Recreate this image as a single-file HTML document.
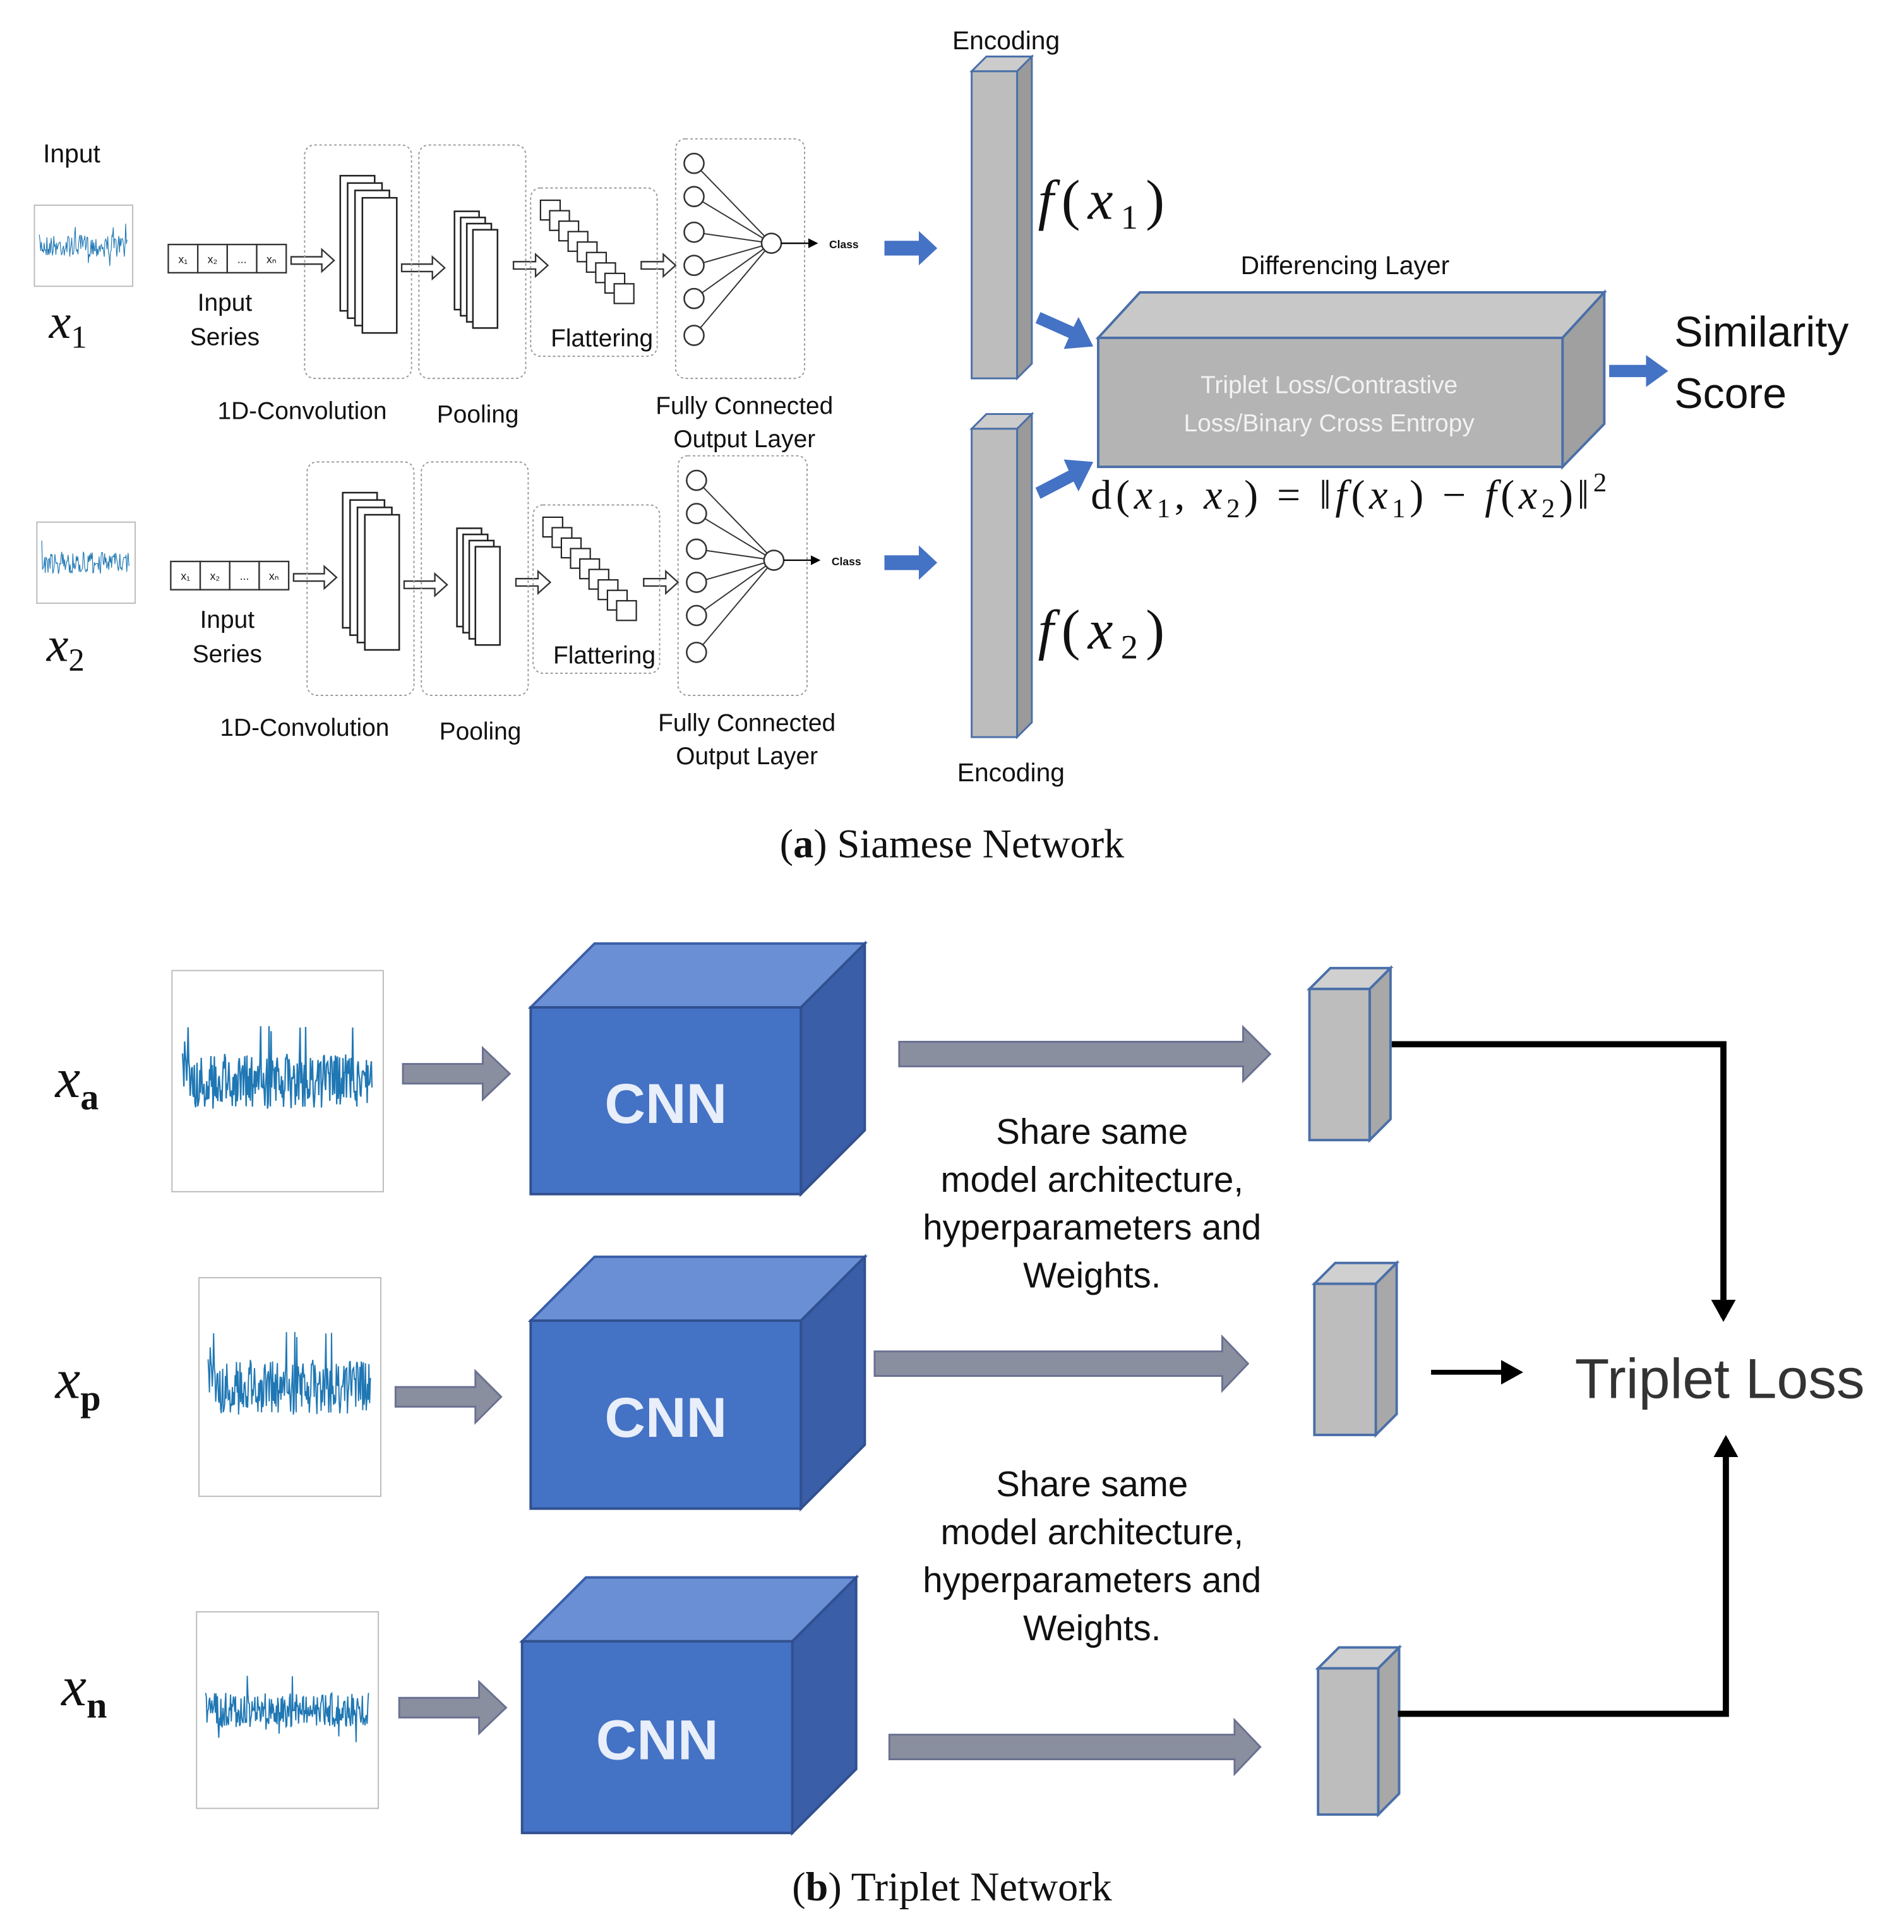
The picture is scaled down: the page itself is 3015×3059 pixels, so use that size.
<!DOCTYPE html>
<html><head><meta charset="utf-8">
<style>
html,body{margin:0;padding:0;background:#fff;}
svg{display:block}
.s{font-family:"Liberation Sans",sans-serif;fill:#111}
.m{font-family:"Liberation Serif",serif;font-style:italic;fill:#111}
.r{font-family:"Liberation Serif",serif;fill:#111}
</style></head><body>
<svg id="sv" width="3015" height="3059" viewBox="0 0 1550 1572.6" xmlns="http://www.w3.org/2000/svg">
<defs>
<marker id="ah" markerWidth="8" markerHeight="8" refX="6" refY="4" orient="auto" markerUnits="userSpaceOnUse"><path d="M0,0 L8,4 L0,8 z" fill="#000"/></marker>
<marker id="ahb" markerWidth="20" markerHeight="20" refX="14" refY="10" orient="auto" markerUnits="userSpaceOnUse"><path d="M0,0 L18,10 L0,20 z" fill="#000"/></marker>
</defs>
<g id="top">
<text x="35" y="132" class="s" font-size="21">Input</text>
<g id="rows"></g>
<text x="40" y="275" class="m" font-size="40">x<tspan font-size="26" dy="8" font-style="normal">1</tspan></text>
<text x="38" y="538" class="m" font-size="40">x<tspan font-size="26" dy="8" font-style="normal">2</tspan></text>
<polygon points="791,58 803,46 840,46 828,58" fill="#ccc" stroke="#4a6fa8" stroke-width="1.5"/>
<polygon points="828,58 840,46 840,296 828,308" fill="#9a9a9a" stroke="#4a6fa8" stroke-width="1.5"/>
<rect x="791" y="58" width="37" height="250" fill="#bdbdbd" stroke="#4a6fa8" stroke-width="1.5"/>
<polygon points="791,349 803,337 840,337 828,349" fill="#ccc" stroke="#4a6fa8" stroke-width="1.5"/>
<polygon points="828,349 840,337 840,588 828,600" fill="#9a9a9a" stroke="#4a6fa8" stroke-width="1.5"/>
<rect x="791" y="349" width="37" height="251" fill="#bdbdbd" stroke="#4a6fa8" stroke-width="1.5"/>
<text x="819" y="40" class="s" font-size="21" text-anchor="middle">Encoding</text>
<text x="823" y="636" class="s" font-size="21" text-anchor="middle">Encoding</text>
<text x="845" y="178" class="m" font-size="46" textLength="103" lengthAdjust="spacing">f<tspan font-style="normal">(</tspan>x<tspan font-size="28" dy="8" font-style="normal">1</tspan><tspan dy="-8" font-style="normal">)</tspan></text>
<text x="845" y="528" class="m" font-size="46" textLength="103" lengthAdjust="spacing">f<tspan font-style="normal">(</tspan>x<tspan font-size="28" dy="8" font-style="normal">2</tspan><tspan dy="-8" font-style="normal">)</tspan></text>
<g fill="#4472c4">
<polygon points="720,196 748,196 748,188 763,202 748,216 748,208 720,208"/>
<polygon points="720,452 748,452 748,444 763,458 748,472 748,464 720,464"/>
<polygon points="1310,297 1340,297 1340,289 1358,302 1340,315 1340,307 1310,307"/>
<polygon points="843,263 847,254 874,266 878,258 890,282 866,284 870,275"/>
<polygon points="843,397 847,406 874,392 878,400 890,376 866,374 870,383"/>
</g>
<text x="1095" y="223" class="s" font-size="21" text-anchor="middle">Differencing Layer</text>
<polygon points="894,275 928,238 1306,238 1272,275" fill="#c8c8c8" stroke="#4a6fa8" stroke-width="2"/>
<polygon points="1272,275 1306,238 1306,345 1272,380" fill="#a0a0a0" stroke="#4a6fa8" stroke-width="2"/>
<rect x="894" y="275" width="378" height="105" fill="#b4b4b4" stroke="#4a6fa8" stroke-width="2"/>
<text x="1082" y="320" class="s" font-size="20" style="fill:#f2f2f2" text-anchor="middle">Triplet Loss/Contrastive</text>
<text x="1082" y="351" class="s" font-size="20" style="fill:#f2f2f2" text-anchor="middle">Loss/Binary Cross Entropy</text>
<text x="888" y="414" class="r" font-size="34" textLength="420" lengthAdjust="spacing">d(<tspan font-style="italic">x</tspan><tspan font-size="22" dy="7">1</tspan><tspan dy="-7">, </tspan><tspan font-style="italic">x</tspan><tspan font-size="22" dy="7">2</tspan><tspan dy="-7">) = ‖</tspan><tspan font-style="italic">f</tspan>(<tspan font-style="italic">x</tspan><tspan font-size="22" dy="7">1</tspan><tspan dy="-7">) − </tspan><tspan font-style="italic">f</tspan>(<tspan font-style="italic">x</tspan><tspan font-size="22" dy="7">2</tspan><tspan dy="-7">)‖</tspan><tspan font-size="22" dy="-14">2</tspan></text>
<text x="1363" y="282" class="s" font-size="35">Similarity</text>
<text x="1363" y="332" class="s" font-size="35">Score</text>
<text x="775" y="698" class="r" font-size="33" text-anchor="middle">(<tspan font-weight="bold">a</tspan>) Siamese Network</text>
</g>
<g id="bot">
<text x="45" y="893" class="m" font-size="46">x<tspan font-size="30" dy="10" font-weight="bold" font-style="normal">a</tspan></text>
<text x="45" y="1138" class="m" font-size="46">x<tspan font-size="30" dy="10" font-weight="bold" font-style="normal">p</tspan></text>
<text x="50" y="1388" class="m" font-size="46">x<tspan font-size="30" dy="10" font-weight="bold" font-style="normal">n</tspan></text>
<g id="cubes"></g>
<g fill="#8a8fa0" stroke="#6a7090" stroke-width="1.5">
<polygon points="328,866 393,866 393,853 415,874 393,895 393,882 328,882"/>
<polygon points="322,1129 387,1129 387,1116 408,1137 387,1158 387,1145 322,1145"/>
<polygon points="325,1382 390,1382 390,1369 412,1390 390,1411 390,1398 325,1398"/>
<polygon points="732,848 1012,848 1012,836 1034,858 1012,880 1012,868 732,868"/>
<polygon points="712,1100 995,1100 995,1088 1016,1110 995,1132 995,1120 712,1120"/>
<polygon points="724,1412 1005,1412 1005,1400 1026,1422 1005,1444 1005,1432 724,1432"/>
</g>
<g class="s" font-size="29" text-anchor="middle">
<text x="889" y="931">Share same</text><text x="889" y="970">model architecture,</text><text x="889" y="1009">hyperparameters and</text><text x="889" y="1048">Weights.</text>
<text x="889" y="1218">Share same</text><text x="889" y="1257">model architecture,</text><text x="889" y="1296">hyperparameters and</text><text x="889" y="1335">Weights.</text>
</g>
<path d="M1133,850 H1403 V1072" fill="none" stroke="#000" stroke-width="5" marker-end="url(#ahb)"/>
<path d="M1138,1395 H1405 V1172" fill="none" stroke="#000" stroke-width="5" marker-end="url(#ahb)"/>
<path d="M1165,1117 H1236" fill="none" stroke="#000" stroke-width="4" marker-end="url(#ahb)"/>
<text x="1282" y="1138" class="s" font-size="46" style="fill:#333">Triplet Loss</text>
<text x="775" y="1547" class="r" font-size="33" text-anchor="middle">(<tspan font-weight="bold">b</tspan>) Triplet Network</text>
</g>
</svg>
<script>
var NS="http://www.w3.org/2000/svg",sv=document.getElementById('sv');
function el(t,a,p){var e=document.createElementNS(NS,t);for(var k in a)e.setAttribute(k,a[k]);(p||sv).appendChild(e);return e;}
function txt(x,y,s,sz,anc,p){var e=el('text',{x:x,y:y,'font-size':sz,'text-anchor':anc||'start','class':'s'},p);e.textContent=s;return e;}
var seed=7;function rnd(){seed=(seed*16807)%2147483647;return seed/2147483647;}
function plot(x,y,w,h,amp,p){
 el('rect',{x:x,y:y,width:w,height:h,fill:'#fff',stroke:'#bbb','stroke-width':1},p);
 var d='',n=Math.floor(w*1.6),cy=y+h*0.5;
 for(var i=0;i<n;i++){var px=x+w*0.05+i*(w*0.9)/n;var a=(rnd()-0.5)*amp*(rnd()<0.05?2:1);d+=(i?'L':'M')+px.toFixed(1)+','+(cy+a).toFixed(1);}
 el('path',{d:d,fill:'none',stroke:'#1f77b4','stroke-width':Math.max(0.6,w/150)},p);
}
function row(dx,dy){
 var g=el('g',{transform:'translate('+dx+','+dy+')'},document.getElementById('rows'));
 plot(28,167,80,66,18,g);
 var lab=['x₁','x₂','...','xₙ'];
 for(var i=0;i<4;i++){el('rect',{x:137+i*24,y:199,width:24,height:23,fill:'#fff',stroke:'#333','stroke-width':1.2},g);txt(149+i*24,214,lab[i],9,'middle',g);}
 [[237,212,35],[327,218,35],[418,216,28],[522,216,28]].forEach(function(a){var x=a[0],y=a[1],w=a[2];el('path',{d:'M'+x+','+(y-3)+'h'+(w-10)+'v-6l10,9l-10,9v-6h-'+(w-10)+'z',fill:'#fff',stroke:'#333','stroke-width':1.2},g);});
 el('rect',{x:248,y:118,width:87,height:190,rx:8,fill:'none',stroke:'#999','stroke-dasharray':'2,2'},g);
 el('rect',{x:341,y:118,width:87,height:190,rx:8,fill:'none',stroke:'#999','stroke-dasharray':'2,2'},g);
 el('rect',{x:432,y:153,width:103,height:137,rx:8,fill:'none',stroke:'#999','stroke-dasharray':'2,2'},g);
 el('rect',{x:550,y:113,width:105,height:195,rx:8,fill:'none',stroke:'#999','stroke-dasharray':'2,2'},g);
 for(var i=0;i<4;i++)el('rect',{x:277+i*6,y:143+i*6,width:28,height:110,fill:'#fff',stroke:'#222','stroke-width':1.3},g);
 for(var i=0;i<4;i++)el('rect',{x:370+i*5,y:172+i*5,width:20,height:80,fill:'#fff',stroke:'#222','stroke-width':1.3},g);
 for(var i=0;i<9;i++)el('rect',{x:440+i*7.5,y:163+i*8.5,width:16,height:16,fill:'#fff',stroke:'#222','stroke-width':1.1},g);
 var ys=[133,160,189,216,243,273];
 ys.forEach(function(yy){el('line',{x1:565,y1:yy,x2:628,y2:198,stroke:'#333','stroke-width':1},g);});
 ys.forEach(function(yy){el('circle',{cx:565,cy:yy,r:8,fill:'#fff',stroke:'#333','stroke-width':1.3},g);});
 el('circle',{cx:628,cy:198,r:8,fill:'#fff',stroke:'#333','stroke-width':1.3},g);
 el('line',{x1:636,y1:198,x2:664,y2:198,stroke:'#000','stroke-width':1.2,'marker-end':'url(#ah)'},g);
 var c=txt(675,202,'Class',9,'start',g);c.setAttribute('font-weight','bold');
 txt(183,253,'Input',20,'middle',g);txt(183,281,'Series',20,'middle',g);
 txt(246,341,'1D-Convolution',20,'middle',g);txt(389,344,'Pooling',20,'middle',g);
 txt(490,282,'Flattering',20,'middle',g);txt(606,337,'Fully Connected',20,'middle',g);txt(606,364,'Output Layer',20,'middle',g);
}
row(0,0);
seed=99;row(2,258);
var cubes=document.getElementById('cubes');
function cube(x,y,w,h,d,lbl){
 el('polygon',{points:[x,y,x+d,y-d,x+w+d,y-d,x+w,y].join(','),fill:'#6b8fd4',stroke:'#3a5ea8','stroke-width':2},cubes);
 el('polygon',{points:[x+w,y,x+w+d,y-d,x+w+d,y+h-d,x+w,y+h].join(','),fill:'#3a5ea8',stroke:'#30508f','stroke-width':2},cubes);
 el('rect',{x:x,y:y,width:w,height:h,fill:'#4472c4',stroke:'#30508f','stroke-width':2},cubes);
 var t=txt(x+w/2,y+h/2+18,lbl,46,'middle',cubes);t.setAttribute('style','fill:#e8eefa;font-weight:bold');
}
cube(432,820,220,152,52,'CNN');cube(432,1075,220,153,52,'CNN');cube(425,1336,220,156,52,'CNN');
function gbox(x,y,w,h,d){
 el('polygon',{points:[x,y,x+d,y-d,x+w+d,y-d,x+w,y].join(','),fill:'#d0d0d0',stroke:'#4a6fa8','stroke-width':2},cubes);
 el('polygon',{points:[x+w,y,x+w+d,y-d,x+w+d,y+h-d,x+w,y+h].join(','),fill:'#a8a8a8',stroke:'#4a6fa8','stroke-width':2},cubes);
 el('rect',{x:x,y:y,width:w,height:h,fill:'#bdbdbd',stroke:'#4a6fa8','stroke-width':2},cubes);
}
gbox(1066,805,49,123,17);gbox(1070,1045,50,123,17);gbox(1073,1358,49,119,17);
seed=3;plot(140,790,172,180,45);seed=3;plot(162,1040,148,178,45);seed=11;plot(160,1312,148,160,28);
</script>
</body></html>
